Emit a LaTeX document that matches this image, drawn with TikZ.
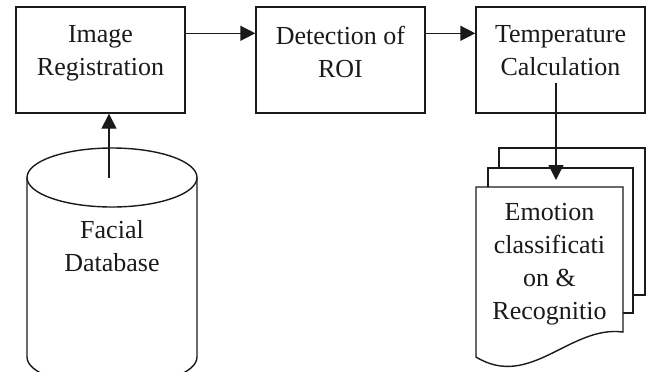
\documentclass[tikz,border=0pt]{standalone}
\usepackage{fontspec}
\setmainfont{Liberation Serif}
\usetikzlibrary{arrows.meta}
\definecolor{flowink}{HTML}{1A1A1A}

\begin{document}
\begin{tikzpicture}[
  x=0.5pt,
  y=-0.5pt,
  every node/.style={font=\fontsize{13}{16.5}\selectfont, flowink},
  block/.style={draw=flowink, line width=0.7pt, minimum width=84.5pt,
    minimum height=53pt, inner sep=0pt},
  txt/.style={align=center, inner sep=0pt, anchor=north},
  link/.style={flowink, line width=0.7pt, -{Triangle[length=7.5pt, width=7.5pt]}},
  outline/.style={draw=flowink, line width=0.7pt},
  sheet/.style={draw=flowink, fill=white, line width=0.7pt}
]
\clip (0,0) rectangle (653,371);

% =====================================================================
% top row: the three processing blocks
% =====================================================================
\node[block] (reg) at (100.5,60) {};
\node[block] (roi) at (340.5,60) {};
\node[block] (temp) at (560.5,60) {};
\node[txt] (regtxt) at ([yshift=-9.5pt]reg.north) {Image\\Registration};
\node[txt] (roitxt) at ([yshift=-9.5pt]roi.north) {Detection of\\ROI};
\node[txt] (temptxt) at ([yshift=-9.5pt]temp.north) {Temperature\\Calculation};

\draw[link] ([yshift=-13.5pt]reg.north east) -- ([yshift=-13.5pt]roi.north west);
\draw[link] ([yshift=-13.5pt]roi.north east) -- ([yshift=-13.5pt]temp.north west);

% =====================================================================
% left: facial database (cylinder, cut by the lower edge)
% =====================================================================
\coordinate (dbtop) at (112,177.5);
\draw[outline] (dbtop) ellipse [x radius=85, y radius=29.5];
\draw[outline] (27,177.5) -- (27,357)
  arc[start angle=180, end angle=0, x radius=85, y radius=29.5] -- (197,177.5);
\node[txt] (dbtxt) at (112,220) {Facial\\Database};

\draw[link] ([xshift=-1.5pt]dbtop) -- ([xshift=-1.5pt]dbtop |- reg.south);

% =====================================================================
% right: stack of output documents
% =====================================================================
\draw[sheet] (499,148) rectangle (645,295);
\draw[sheet] (488,168) rectangle (633,313);
\draw[sheet] (476,187) -- (623,187) -- (623,332)
  .. controls (570,325) and (530,390) .. (476,357) -- cycle;
\node[txt] (emotxt) at (549.5,203) {Emotion\\classificati\\on \&\\Recognitio};

\coordinate (emoin) at (556,180);
\draw[link] ([xshift=-2.25pt, yshift=15.5pt]temp.south) -- (emoin);

\end{tikzpicture}
\end{document}
